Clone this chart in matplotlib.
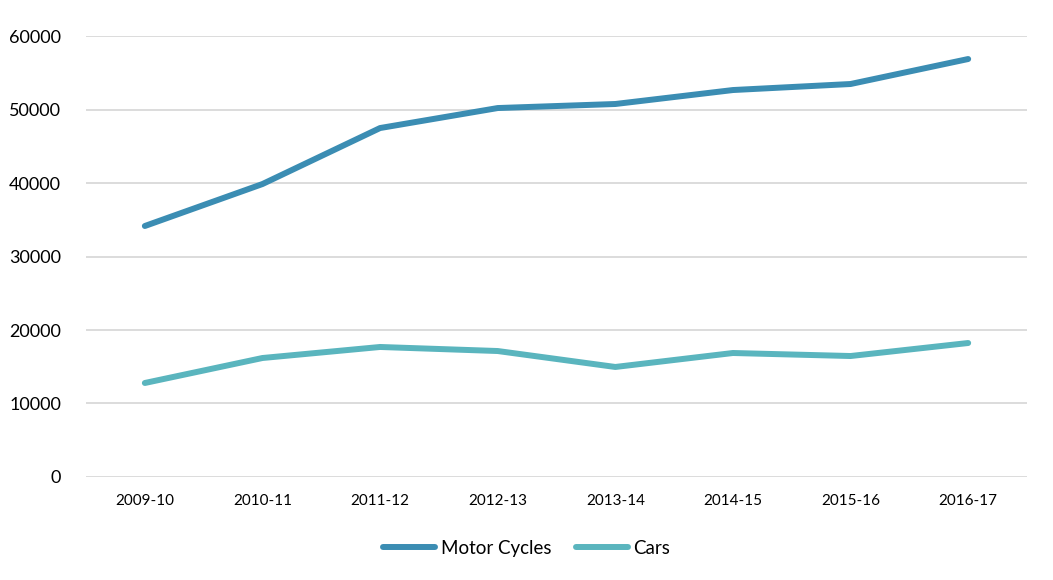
import matplotlib
matplotlib.use("Agg")
import matplotlib.pyplot as plt

years = ["2009-10", "2010-11", "2011-12", "2012-13", "2013-14", "2014-15", "2015-16", "2016-17"]
motor_cycles = [34150, 39860, 47480, 50200, 50750, 52650, 53470, 56870]
cars = [12790, 16190, 17690, 17140, 14970, 16870, 16460, 18230]

plt.rcParams['font.family'] = ['Lato', 'DejaVu Sans']

fig = plt.figure(figsize=(10.53, 5.80), dpi=100)
ax = fig.add_axes([0.0817, 0.1776, 0.8936, 0.7603])

x = range(len(years))
ax.plot(x, motor_cycles, color="#3b8db3", lw=4.3, solid_capstyle="round", label="Motor Cycles")
ax.plot(x, cars, color="#5ab5be", lw=4.3, solid_capstyle="round", label="Cars")

ax.set_xlim(-0.5, len(years) - 0.5)
ax.set_ylim(0, 60000)
ax.set_yticks(range(0, 60001, 10000))
ax.set_xticks(list(x))
ax.set_xticklabels(years, fontsize=11)
ax.tick_params(axis="y", labelsize=13, length=0, pad=18)
ax.tick_params(axis="x", length=0, pad=12)
ax.grid(axis="y", color="#d9d9d9", lw=1.3)
ax.set_axisbelow(True)
for s in ax.spines.values():
    s.set_visible(False)

fig.legend(loc="center", bbox_to_anchor=(0.5, 0.055), ncol=2, frameon=False,
           fontsize=13.5, handlelength=2.8, handletextpad=0.3, columnspacing=1.3)

fig.savefig("out.png", dpi=100)
plt.close(fig)
